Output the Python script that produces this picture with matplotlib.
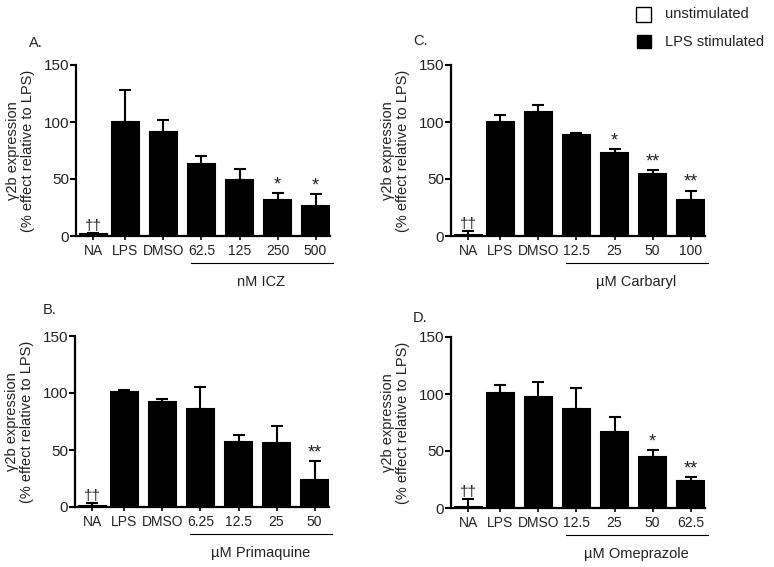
import matplotlib

matplotlib.use("Agg")

import matplotlib.pyplot as plt
from matplotlib.patches import Rectangle

plt.rcParams["font.family"] = ["Liberation Sans", "DejaVu Sans"]

TEXT_COLOR = "#222222"

# panel A - ICZ
labels_a = ["NA", "LPS", "DMSO", "62.5", "125", "250", "500"]
means_a = [2, 100, 91, 63.5, 49.5, 31.5, 26.5]
errs_a = [0.5, 28, 11, 6.5, 9.5, 6, 10]
marks_a = ["††", "", "", "", "", "*", "*"]

# panel B - Primaquine
labels_b = ["NA", "LPS", "DMSO", "6.25", "12.5", "25", "50"]
means_b = [0.5, 101, 92, 86, 57, 56.5, 24]
errs_b = [3.3, 1.5, 3, 19.5, 6, 14.5, 16]
marks_b = ["††", "", "", "", "", "", "**"]

# panel C - Carbaryl
labels_c = ["NA", "LPS", "DMSO", "12.5", "25", "50", "100"]
means_c = [0.5, 100, 108.5, 89, 73, 54.5, 32]
errs_c = [4, 6, 6.5, 1.5, 3, 3.3, 7.5]
marks_c = ["††", "", "", "", "*", "**", "**"]

# panel D - Omeprazole
labels_d = ["NA", "LPS", "DMSO", "12.5", "25", "50", "62.5"]
means_d = [0.5, 101, 97.5, 87, 67, 44.5, 24]
errs_d = [7, 6.5, 13, 18, 12.5, 6, 3]
marks_d = ["††", "", "", "", "", "*", "**"]

positions = [-0.84, 0, 1, 2, 3, 4, 5]
yticks = [0, 50, 100, 150]


def draw_panel(fig, rect, letter, letter_xy, labels, means, errs, marks, group_label):
    ax = fig.add_axes(rect)
    colors = ["white"] + ["black"] * (len(means) - 1)
    ax.bar(positions, means, width=0.7, color=colors, edgecolor="black",
           linewidth=1.5, zorder=2)
    ax.errorbar(positions, means, yerr=[[0] * len(errs), errs], fmt="none",
                ecolor="black", elinewidth=1.5, capsize=4.5, capthick=1.5, zorder=1)
    for x, m, e, mark in zip(positions, means, errs, marks):
        if mark:
            size = 11 if mark == "††" else 13
            ax.annotate(mark, (x, m + e), xytext=(0, 0), textcoords="offset points",
                        ha="center", va="bottom", fontsize=size, color=TEXT_COLOR)

    ax.set_xlim(-1.3, 5.38)
    ax.set_ylim(0, 150)
    ax.set_yticks(yticks)
    ax.set_xticks(positions)
    ax.set_xticklabels(labels)
    for side in ("top", "right"):
        ax.spines[side].set_visible(False)
    for side in ("left", "bottom"):
        ax.spines[side].set_linewidth(1.6)
    ax.tick_params(axis="y", length=4, width=1.5, labelsize=11, colors=TEXT_COLOR,
                   pad=1)
    ax.tick_params(axis="x", length=3, width=1.2, labelsize=10, colors=TEXT_COLOR,
                   pad=3)
    ax.tick_params(axis="both", color="black")

    ax.set_ylabel("γ2b expression\n(% effect relative to LPS)", fontsize=10.5,
                  color=TEXT_COLOR, linespacing=1.1)
    ax.yaxis.set_label_coords(-0.16, 0.5)

    trans = ax.get_xaxis_transform()
    ax.plot([1.72, 5.45], [-0.158, -0.158], transform=trans, color="black",
            linewidth=0.8, clip_on=False)
    ax.text(3.58, -0.27, group_label, transform=trans, ha="center", va="center",
            fontsize=10.5, color=TEXT_COLOR)
    ax.text(letter_xy[0], letter_xy[1], letter, transform=ax.transAxes, ha="center",
            va="center", fontsize=10.5, color=TEXT_COLOR)
    return ax


fig = plt.figure(figsize=(7.74, 5.67), dpi=100)

W, H = 774.0, 567.0
h = 171 / H
w = 254 / W

draw_panel(fig, [76 / W, (H - 236) / H, w, h], "A.", (-0.16, 1.13), labels_a,
           means_a, errs_a, marks_a, "nM ICZ")
draw_panel(fig, [75 / W, (H - 507) / H, w, h], "B.", (-0.1, 1.15), labels_b,
           means_b, errs_b, marks_b, "µM Primaquine")
draw_panel(fig, [451 / W, (H - 236) / H, w, h], "C.", (-0.12, 1.14), labels_c,
           means_c, errs_c, marks_c, "µM Carbaryl")
draw_panel(fig, [451 / W, (H - 508) / H, w, h], "D.", (-0.12, 1.11), labels_d,
           means_d, errs_d, marks_d, "µM Omeprazole")

# legend boxes
fig.patches.append(Rectangle((636 / W, 1 - 22 / H), 15 / W, 15 / H, facecolor="white",
                             edgecolor="black", linewidth=1.0,
                             transform=fig.transFigure, figure=fig))
fig.patches.append(Rectangle((637 / W, 1 - 48 / H), 14 / W, 13 / H, facecolor="black",
                             edgecolor="black", linewidth=1.0,
                             transform=fig.transFigure, figure=fig))
fig.text(665 / W, 1 - 14 / H, "unstimulated", ha="left", va="center", fontsize=10.5,
         color=TEXT_COLOR)
fig.text(665 / W, 1 - 42 / H, "LPS stimulated", ha="left", va="center", fontsize=10.5,
         color=TEXT_COLOR)

fig.savefig("out.png", dpi=100)
plt.close(fig)
